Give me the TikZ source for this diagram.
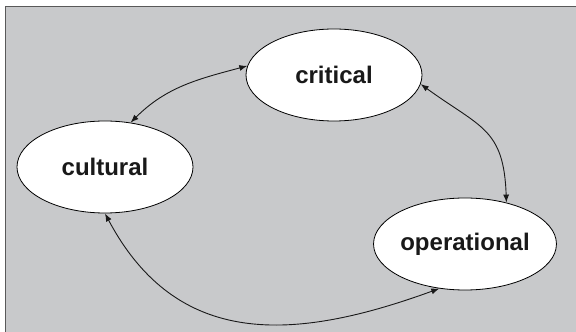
\documentclass[tikz,border=0pt]{standalone}
\usepackage{fontspec}
\setmainfont{Liberation Sans}
\usetikzlibrary{arrows.meta,shapes.geometric}
\definecolor{panel}{RGB}{200,201,203}

\begin{document}
\begin{tikzpicture}[x=1pt,y=1pt,
		blob/.style={ellipse,draw=black,line width=0.8pt,fill=white,
			minimum width=176pt,minimum height=92pt,inner sep=0pt,
			font=\fontsize{24}{27}\selectfont\bfseries,text=black!90},
		link/.style={{Latex[length=8pt,width=6pt]}-{Latex[length=8pt,width=6pt]},line width=0.9pt,black!90}]
			\useasboundingbox (0,0) rectangle (576,332);
			\clip (0,0) rectangle (576,332);
			\filldraw[fill=panel,draw=black!65,line width=1pt] (5.5,325) rectangle (590,-10);
			\node[blob] (critical) at (334,257) {critical};
			\node[blob] (cultural) at (105,165) {cultural};
			\node[blob] (operational) at (465,88) {operational};
			\draw[link] (critical.174) to[out=195,in=45] (cultural.60);
			\draw[link] (critical.-6) to[out=-36,in=92,looseness=1.3] (operational.45);
			\draw[link] (cultural.-90) to[out=-62,in=200,looseness=1.15] (operational.-120);
		\end{tikzpicture}
\end{document}
